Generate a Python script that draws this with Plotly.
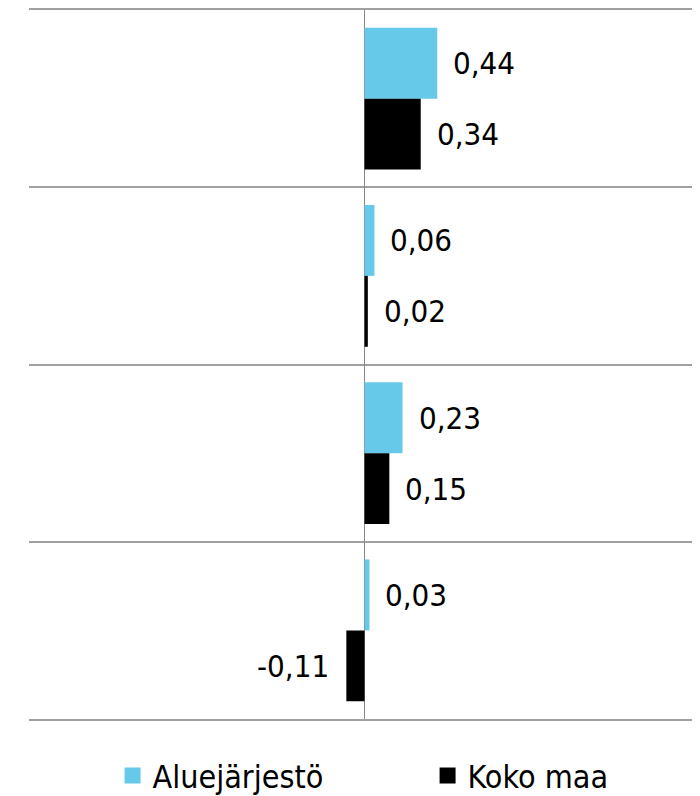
import plotly.graph_objects as go

categories = ["Ryhmä 1", "Ryhmä 2", "Ryhmä 3", "Ryhmä 4"]
series_names = ["Aluejärjestö", "Koko maa"]
aluejarjesto = [0.44, 0.06, 0.23, 0.03]
koko_maa = [0.34, 0.02, 0.15, -0.11]
colors = ["#66C9E9", "#000000"]

FONT = "DejaVu Sans Condensed, Liberation Sans Narrow, sans-serif"

def fmt(v):
    return f"{v:.2f}".replace(".", ",")

fig = go.Figure()
for name, vals, col in zip(series_names, [aluejarjesto, koko_maa], colors):
    fig.add_trace(go.Bar(
        y=categories, x=vals, name=name, orientation="h",
        marker=dict(color=col, line=dict(width=0)),
        hoverinfo="x+name", showlegend=False, legendgroup=name,
    ))
# legend entries with larger square symbols
for name, col in zip(series_names, colors):
    fig.add_trace(go.Scatter(
        x=[None], y=[None], mode="markers", name=name, legendgroup=name,
        marker=dict(symbol="square", size=18, color=col), showlegend=True,
    ))

# value labels
annotations = []
for k, vals in enumerate([aluejarjesto, koko_maa]):
    shift = -35.5 if k == 0 else 35.5
    for cat, v in zip(categories, vals):
        annotations.append(dict(
            x=v, y=cat, xref="x", yref="y", text=fmt(v), showarrow=False,
            xanchor="left" if v >= 0 else "right",
            xshift=14 if v >= 0 else -15, yshift=-shift,
            font=dict(family=FONT, size=31, color="#000000"),
        ))

fig.update_layout(
    width=700, height=788,
    margin=dict(l=21, r=0, t=2, b=77, autoexpand=False),
    paper_bgcolor="white", plot_bgcolor="white",
    barmode="group", bargap=0.2, bargroupgap=0,
    annotations=annotations,
    showlegend=True,
    legend=dict(orientation="h", x=0.587, xanchor="center", y=-0.08, yanchor="middle",
                font=dict(family=FONT, size=32, color="#000000"),
                entrywidth=270, entrywidthmode="pixels", traceorder="normal",
                itemsizing="trace"),
    xaxis=dict(range=[-2.03, 2.078], showgrid=False, showticklabels=False, ticks="",
               zeroline=True, zerolinecolor="#888888", zerolinewidth=1, fixedrange=True,
               showline=True, mirror=True, linecolor="#a0a0a0", linewidth=2),
    yaxis=dict(autorange="reversed", tickson="boundaries", showgrid=True,
               gridcolor="#a0a0a0", gridwidth=2, showticklabels=False, ticks="",
               zeroline=False, showline=False),
)

fig.write_html("out.html")
